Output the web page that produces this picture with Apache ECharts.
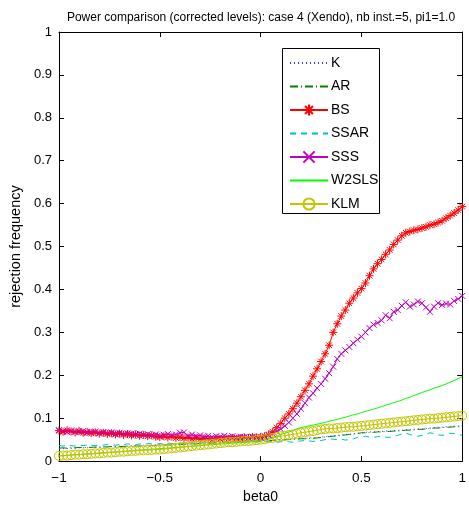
<!DOCTYPE html>
<html><head><meta charset="utf-8">
<script src="https://cdn.jsdelivr.net/npm/echarts@6/dist/echarts.min.js"></script>
<style>html,body{margin:0;padding:0;background:#fff}#c{width:469px;height:509px}</style>
</head><body><div id="c"></div>
<script>
const titleText = 'Power comparison (corrected levels): case 4 (Xendo), nb inst.=5, pi1=1.0';
const xName = 'beta0';
const yName = 'rejection frequency';
const xTickLabels = {'-1':'−1','-0.5':'−0.5','0':'0','0.5':'0.5','1':'1'};
const seriesNames = ['K','AR','BS','SSAR','SSS','W2SLS','KLM'];

const beta0 = [-1,-0.98,-0.96,-0.94,-0.92,-0.9,-0.88,-0.86,-0.84,-0.82,
-0.8,-0.78,-0.76,-0.74,-0.72,-0.7,-0.68,-0.66,-0.64,-0.62,
-0.6,-0.58,-0.56,-0.54,-0.52,-0.5,-0.48,-0.46,-0.44,-0.42,
-0.4,-0.38,-0.36,-0.34,-0.32,-0.3,-0.28,-0.26,-0.24,-0.22,
-0.2,-0.18,-0.16,-0.14,-0.12,-0.1,-0.08,-0.06,-0.04,-0.02,
0,0.02,0.04,0.06,0.08,0.1,0.12,0.14,0.16,0.18,
0.2,0.22,0.24,0.26,0.28,0.3,0.32,0.34,0.36,0.38,
0.4,0.42,0.44,0.46,0.48,0.5,0.52,0.54,0.56,0.58,
0.6,0.62,0.64,0.66,0.68,0.7,0.72,0.74,0.76,0.78,
0.8,0.82,0.84,0.86,0.88,0.9,0.92,0.94,0.96,0.98,1];

const K = [0.028,0.029,0.029,0.030,0.030,0.031,0.031,0.031,0.032,0.032,
0.033,0.033,0.033,0.034,0.034,0.035,0.035,0.035,0.036,0.036,
0.036,0.037,0.037,0.037,0.038,0.038,0.039,0.039,0.039,0.040,
0.040,0.041,0.041,0.041,0.042,0.042,0.043,0.043,0.043,0.044,
0.044,0.045,0.045,0.045,0.046,0.046,0.047,0.047,0.047,0.048,
0.048,0.048,0.049,0.049,0.050,0.050,0.051,0.051,0.052,0.052,
0.053,0.053,0.054,0.055,0.055,0.056,0.057,0.058,0.059,0.060,
0.061,0.062,0.063,0.064,0.065,0.066,0.067,0.068,0.068,0.069,
0.069,0.070,0.070,0.071,0.072,0.072,0.073,0.073,0.074,0.075,
0.075,0.076,0.077,0.078,0.079,0.079,0.080,0.081,0.081,0.082,0.083];

const AR = [0.030,0.031,0.030,0.031,0.031,0.032,0.031,0.032,0.032,0.033,
0.032,0.033,0.033,0.034,0.033,0.034,0.034,0.035,0.034,0.035,
0.035,0.036,0.035,0.036,0.036,0.037,0.037,0.038,0.037,0.038,
0.039,0.039,0.040,0.039,0.040,0.041,0.041,0.042,0.041,0.042,
0.043,0.043,0.044,0.043,0.044,0.045,0.045,0.046,0.045,0.046,
0.047,0.047,0.048,0.048,0.049,0.049,0.050,0.050,0.051,0.051,
0.052,0.052,0.053,0.053,0.054,0.055,0.056,0.057,0.058,0.059,
0.060,0.061,0.062,0.063,0.064,0.066,0.066,0.067,0.067,0.068,
0.068,0.069,0.069,0.070,0.070,0.071,0.072,0.072,0.073,0.074,
0.074,0.075,0.076,0.077,0.077,0.078,0.079,0.079,0.080,0.080,0.081];

const BS = [0.071,0.068,0.072,0.069,0.067,0.070,0.066,0.068,0.065,0.067,
0.064,0.066,0.063,0.065,0.062,0.064,0.061,0.063,0.060,0.062,
0.059,0.061,0.058,0.060,0.057,0.056,0.058,0.055,0.057,0.054,
0.056,0.053,0.055,0.052,0.054,0.051,0.053,0.052,0.050,0.053,
0.051,0.053,0.052,0.054,0.052,0.053,0.055,0.054,0.056,0.055,
0.056,0.058,0.062,0.068,0.078,0.088,0.100,0.110,0.122,0.135,
0.150,0.165,0.180,0.198,0.215,0.232,0.250,0.270,0.300,0.320,
0.338,0.352,0.368,0.380,0.392,0.402,0.415,0.432,0.448,0.460,
0.470,0.482,0.492,0.505,0.515,0.525,0.532,0.535,0.538,0.540,
0.543,0.546,0.550,0.552,0.556,0.560,0.566,0.572,0.578,0.585,0.593];

const SSAR = [0.036,0.035,0.037,0.036,0.035,0.037,0.036,0.038,0.037,0.036,
0.038,0.037,0.039,0.038,0.037,0.039,0.038,0.040,0.039,0.038,
0.040,0.039,0.041,0.040,0.039,0.041,0.040,0.042,0.041,0.040,
0.042,0.041,0.043,0.042,0.041,0.043,0.042,0.044,0.043,0.042,
0.044,0.043,0.045,0.044,0.043,0.045,0.044,0.046,0.045,0.044,
0.046,0.045,0.046,0.045,0.044,0.045,0.046,0.045,0.044,0.046,
0.047,0.048,0.047,0.046,0.047,0.048,0.050,0.052,0.051,0.050,
0.051,0.049,0.050,0.052,0.055,0.057,0.058,0.056,0.055,0.057,
0.058,0.056,0.055,0.057,0.060,0.063,0.065,0.062,0.059,0.058,
0.060,0.063,0.066,0.064,0.061,0.060,0.062,0.065,0.064,0.062,0.060];

const SSS = [0.072,0.070,0.068,0.071,0.069,0.067,0.070,0.066,0.068,0.069,
0.066,0.068,0.065,0.067,0.064,0.066,0.063,0.065,0.064,0.062,
0.064,0.061,0.063,0.060,0.062,0.059,0.061,0.063,0.060,0.062,
0.066,0.067,0.059,0.062,0.058,0.060,0.057,0.059,0.056,0.058,
0.057,0.059,0.056,0.058,0.055,0.057,0.056,0.055,0.057,0.056,
0.055,0.057,0.060,0.064,0.069,0.075,0.082,0.090,0.100,0.110,
0.122,0.135,0.148,0.158,0.170,0.180,0.192,0.205,0.220,0.238,
0.250,0.258,0.266,0.275,0.283,0.290,0.300,0.310,0.318,0.322,
0.328,0.340,0.333,0.348,0.352,0.362,0.370,0.360,0.365,0.372,
0.368,0.358,0.348,0.360,0.368,0.364,0.367,0.365,0.373,0.378,0.385];

const W2SLS = [0.012,0.013,0.013,0.014,0.015,0.015,0.016,0.017,0.017,0.018,
0.019,0.019,0.020,0.021,0.021,0.022,0.023,0.023,0.024,0.025,
0.026,0.026,0.027,0.028,0.028,0.029,0.030,0.030,0.031,0.032,
0.033,0.033,0.034,0.035,0.035,0.036,0.037,0.038,0.038,0.039,
0.040,0.040,0.041,0.042,0.042,0.043,0.044,0.044,0.045,0.046,
0.046,0.049,0.052,0.055,0.058,0.062,0.065,0.068,0.071,0.075,
0.078,0.080,0.082,0.084,0.086,0.088,0.090,0.093,0.095,0.097,
0.100,0.102,0.105,0.108,0.110,0.113,0.116,0.118,0.121,0.124,
0.127,0.130,0.133,0.136,0.139,0.142,0.146,0.149,0.153,0.156,
0.160,0.163,0.166,0.170,0.173,0.176,0.180,0.184,0.188,0.192,0.197];

const KLM = [0.012,0.013,0.013,0.014,0.015,0.015,0.016,0.016,0.017,0.018,
0.018,0.019,0.020,0.020,0.021,0.022,0.022,0.023,0.024,0.024,
0.025,0.025,0.026,0.026,0.027,0.027,0.028,0.029,0.030,0.031,
0.032,0.033,0.034,0.035,0.036,0.037,0.038,0.039,0.040,0.041,
0.042,0.043,0.044,0.044,0.045,0.046,0.047,0.047,0.048,0.049,
0.050,0.051,0.053,0.054,0.056,0.058,0.059,0.061,0.062,0.064,
0.066,0.067,0.069,0.070,0.072,0.074,0.075,0.076,0.076,0.077,
0.078,0.079,0.080,0.080,0.081,0.082,0.083,0.084,0.085,0.086,
0.087,0.088,0.089,0.090,0.091,0.092,0.093,0.094,0.095,0.096,
0.097,0.098,0.099,0.099,0.100,0.101,0.102,0.103,0.104,0.105,0.106];

const FONT = "'Liberation Sans',Arial,Helvetica,sans-serif";
const pair = arr => beta0.map((x, i) => [x, arr[i]]);
const STAR = 'path://M0,-1L0,1M-1,0L1,0M-0.7,-0.7L0.7,0.7M-0.7,0.7L0.7,-0.7';
const CROSS = 'path://M-1,-1L1,1M-1,1L1,-1';
const NOSYM = 'path://M0,0L1,0L1,1L0,1Z';

const chart = echarts.init(document.getElementById('c'), null, {renderer: 'canvas'});
const ax = {
  axisLine: {show: true, onZero: false, lineStyle: {color: '#000', width: 1}},
  axisTick: {show: true, inside: true, length: 5, lineStyle: {color: '#000'}},
  splitLine: {show: false},
};
const plain = (name, arr, color, dash) => ({
  name, type: 'line', data: pair(arr), symbol: NOSYM, symbolSize: 4, showSymbol: false, z: 2,
  lineStyle: {color, width: 1, type: dash},
  itemStyle: {color: 'rgba(255,255,255,0)', borderColor: 'rgba(255,255,255,0)', borderWidth: 0}
});
chart.setOption({
  animation: false,
  backgroundColor: '#fff',
  textStyle: {fontFamily: FONT},
  title: {text: titleText, left: 256, top: 7, textAlign: 'center',
    textStyle: {fontFamily: FONT, fontSize: 12, fontWeight: 'normal', color: '#000'}},
  grid: {left: 53, right: 6, top: 32, bottom: 47, containLabel: false},
  xAxis: [
    Object.assign({type: 'value', min: -1, max: 1, interval: 0.5, position: 'bottom',
      name: xName, nameLocation: 'middle', nameGap: 28,
      nameTextStyle: {fontFamily: FONT, fontSize: 14, color: '#000'},
      axisLabel: {fontFamily: FONT, fontSize: 13.5, color: '#000', margin: 10,
        formatter: v => xTickLabels[String(v)] ?? String(v)}}, ax),
    Object.assign({type: 'value', min: -1, max: 1, interval: 0.5, position: 'top',
      axisLabel: {show: false}}, ax)
  ],
  yAxis: [
    Object.assign({type: 'value', min: 0, max: 1, interval: 0.1, position: 'left',
      name: yName, nameLocation: 'middle', nameGap: 24, nameRotate: 90,
      nameTextStyle: {fontFamily: FONT, fontSize: 14.5, color: '#000'},
      axisLabel: {fontFamily: FONT, fontSize: 13, color: '#000', margin: 7,
        formatter: v => String(Math.round(v * 10) / 10)}}, ax),
    Object.assign({type: 'value', min: 0, max: 1, interval: 0.1, position: 'right',
      axisLabel: {show: false}}, ax)
  ],
  legend: {
    orient: 'vertical', left: 289, top: 56, itemWidth: 38, itemHeight: 14, itemGap: 9.5,
    data: seriesNames, padding: 0, z: 10,
    textStyle: {fontFamily: FONT, fontSize: 14, color: '#000', lineHeight: 14, padding: [0,0,0,-2]}
  },
  graphic: [{type: 'rect', z: 5, shape: {x: 282.5, y: 48.5, width: 97, height: 165},
    style: {fill: '#fff', stroke: '#000', lineWidth: 1}}],
  series: [
    plain('K', K, '#3a3aff', [1, 3]),
    plain('AR', AR, '#008000', [8, 3, 1, 3]),
    {name: 'BS', type: 'line', data: pair(BS), symbol: STAR, symbolSize: 8, z: 2,
      lineStyle: {color: '#ff0000', width: 1},
      itemStyle: {color: '#ff0000', borderColor: '#ff0000', borderWidth: 1}},
    plain('SSAR', SSAR, '#00bfbf', [6, 5]),
    {name: 'SSS', type: 'line', data: pair(SSS), symbol: CROSS, symbolSize: 6, z: 2,
      lineStyle: {color: '#bf00bf', width: 1},
      itemStyle: {color: '#bf00bf', borderColor: '#bf00bf', borderWidth: 1}},
    plain('W2SLS', W2SLS, '#00ff00', 'solid'),
    {name: 'KLM', type: 'line', data: pair(KLM), symbol: 'circle', symbolSize: 9, z: 2,
      lineStyle: {color: '#c4c400', width: 1},
      itemStyle: {color: 'rgba(0,0,0,0)', borderColor: '#c4c400', borderWidth: 1}}
  ]
});
</script></body></html>
